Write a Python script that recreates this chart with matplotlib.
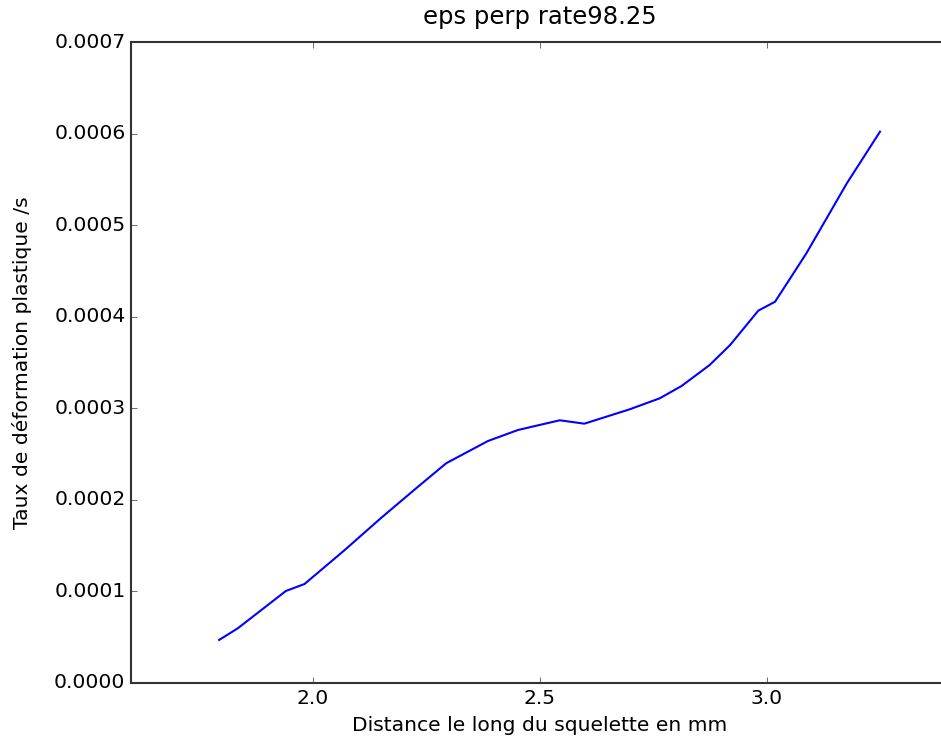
import numpy as np
import matplotlib
matplotlib.use("Agg")
import matplotlib.pyplot as plt

# distance along skeleton (mm) and perpendicular plastic strain rate (/s)
distance = [1.794, 1.835, 1.941, 1.982, 2.07, 2.15, 2.231, 2.294, 2.386, 2.452,
            2.544, 2.598, 2.698, 2.764, 2.812, 2.874, 2.919, 2.981, 3.018, 3.087,
            3.176, 3.249]
rate = [0.0000470, 0.0000597, 0.0001005, 0.0001081, 0.000145, 0.000180, 0.000214,
        0.000240, 0.0002643, 0.0002763, 0.0002869, 0.0002832, 0.0002989, 0.0003109,
        0.0003243, 0.0003473, 0.0003691, 0.0004066, 0.0004164, 0.0004693,
        0.0005457, 0.0006021]

plt.style.use("classic")
plt.rcParams["font.size"] = 14.6
plt.rcParams["font.family"] = "DejaVu Sans"

fig = plt.figure(figsize=(9.41, 7.44), dpi=100, facecolor="white")
ax = fig.add_axes([131 / 941, 61 / 744, 817.6 / 941, 641 / 744])
ax.plot(distance, rate, color="b", linewidth=1.5)
ax.set_xlim(1.6, 3.4)
ax.set_ylim(0, 0.0007)
ax.set_xticks([2.0, 2.5, 3.0])
ax.set_yticks(np.arange(0, 0.00071, 0.0001))
ax.set_yticklabels(["%.4f" % v for v in np.arange(0, 0.00071, 0.0001)])
for s in ax.spines.values():
    s.set_linewidth(1.5)
    s.set_color("#333333")
ax.tick_params(color="#333333")
ax.set_title("eps perp rate98.25", fontsize=17.5, pad=13)
ax.set_xlabel("Distance le long du squelette en mm", labelpad=6)
ax.set_ylabel("Taux de déformation plastique /s", labelpad=16)

fig.savefig("out.png", dpi=100, facecolor="white")
